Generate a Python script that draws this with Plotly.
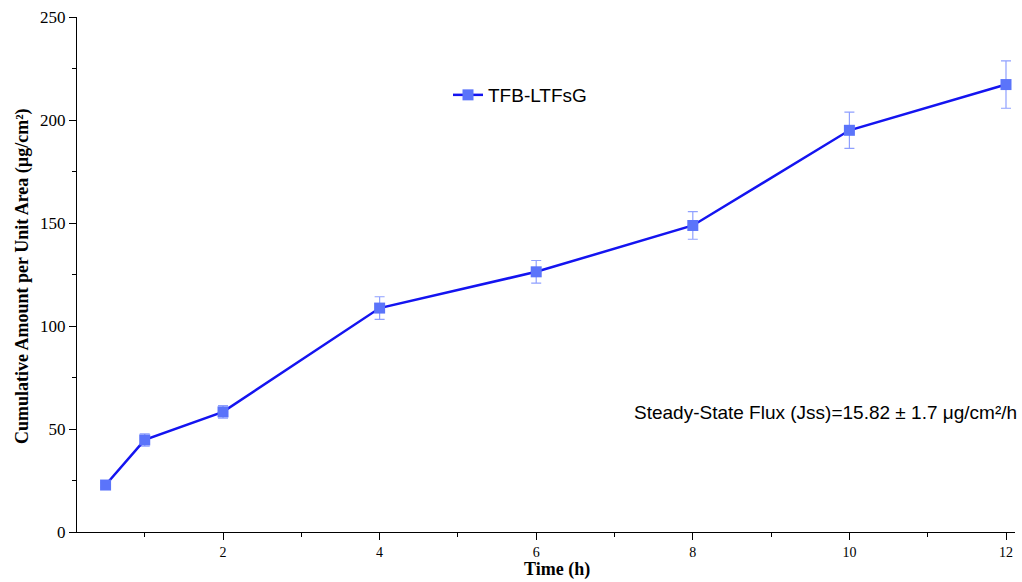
import plotly.graph_objects as go

time_h = [0.5, 1, 2, 4, 6, 8, 10, 12]
cum_amount = [22.8, 44.7, 58.3, 108.7, 126.3, 148.8, 195.0, 217.2]
err = [1.0, 3.0, 3.0, 5.5, 5.5, 6.7, 8.8, 11.5]
x_ticks = [2, 4, 6, 8, 10, 12]
series_name = "TFB-LTFsG"
flux_text = "Steady-State Flux (Jss)=15.82 ± 1.7 μg/cm²/h"

W = 1022 - 77 - 7
H = 582 - 17 - 50

fig = go.Figure()
fig.add_trace(go.Scatter(
    x=time_h, y=cum_amount, name=series_name, mode="lines+markers",
    line=dict(color="#1414F0", width=2.5),
    marker=dict(symbol="square", size=11, color="#5B74FA"),
    error_y=dict(type="data", array=err, visible=True, color="#8FA0FF", thickness=1.2, width=5),
))

fig.update_layout(
    width=1022, height=582,
    margin=dict(l=77, r=7, t=17, b=50),
    plot_bgcolor="white", paper_bgcolor="white",
    showlegend=True,
    legend=dict(x=(448 - 77) / W, y=(532 - 95) / H, xanchor="left", yanchor="middle",
                font=dict(family="Liberation Sans, Arial", size=19, color="black"),
                bgcolor="rgba(0,0,0,0)"),
    xaxis=dict(range=[0.135, 12.115], tickvals=x_ticks, showline=True, linecolor="black", linewidth=1.2,
               ticks="outside", ticklen=7, tickcolor="black", showgrid=False, zeroline=False,
               ticklabelstandoff=0,
               tickfont=dict(family="Liberation Serif, Times New Roman", size=14, color="black"),
               minor=dict(dtick=1, tick0=0, ticks="outside", ticklen=4, tickcolor="black", showgrid=False)),
    yaxis=dict(range=[0, 250], dtick=50, showline=True, linecolor="black", linewidth=1.2,
               ticks="outside", ticklen=7, tickcolor="black", showgrid=False, zeroline=False,
               tickfont=dict(family="Liberation Serif, Times New Roman", size=17, color="black"),
               minor=dict(dtick=25, ticks="outside", ticklen=4, tickcolor="black", showgrid=False)),
    annotations=[
        dict(text=flux_text, x=(1019 - 77) / W, y=(532 - 412) / H, xref="paper", yref="paper",
             showarrow=False, xanchor="right", yanchor="middle",
             font=dict(family="Liberation Sans, Arial", size=19, color="black")),
        dict(text="<b>Time (h)</b>", x=(557 - 77) / W, y=(532 - 582) / H, xref="paper", yref="paper",
             showarrow=False, yanchor="bottom",
             font=dict(family="Liberation Serif, Times New Roman", size=18, color="black")),
        dict(text="<b>Cumulative Amount per Unit Area (µg/cm²)</b>", x=(22 - 77) / W, y=(532 - 276) / H,
             xref="paper", yref="paper", showarrow=False, textangle=-90, xanchor="center", yanchor="middle",
             font=dict(family="Liberation Serif, Times New Roman", size=18, color="black")),
    ],
)

fig.write_html("out.html")
